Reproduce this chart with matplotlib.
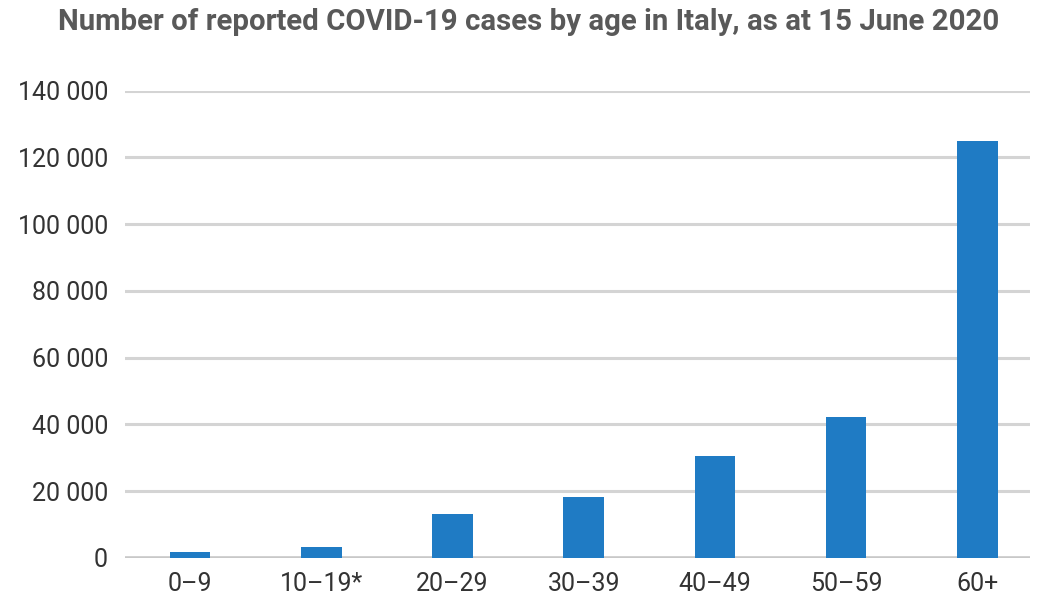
import matplotlib.pyplot as plt
from matplotlib.ticker import FuncFormatter

# data
age_groups = ["0–9", "10–19*", "20–29", "30–39", "40–49", "50–59", "60+"]
cases = [1800, 3300, 13200, 18300, 30400, 42300, 125000]
y_ticks = [0, 20000, 40000, 60000, 80000, 100000, 120000, 140000]

title = "Number of reported COVID-19 cases by age in Italy, as at 15 June 2020"

plt.rcParams["font.family"] = ["Roboto", "DejaVu Sans"]

fig = plt.figure(figsize=(10.38, 6.05), dpi=100)
ax = fig.add_axes([0.120, 0.078, 0.872, 0.772])

x = range(len(age_groups))
ax.bar(x, cases, width=0.31, color="#1f7bc4", zorder=3)

ax.set_xlim(-0.5, 6.4)
ax.set_ylim(0, 140000)
ax.set_yticks(y_ticks)
ax.yaxis.set_major_formatter(FuncFormatter(lambda v, p: f"{int(v):,}".replace(",", " ")))
ax.set_xticks(list(x))
ax.set_xticklabels(age_groups)

ax.grid(axis="y", color="#d4d4d4", linewidth=2.2, zorder=0)
ax.axhline(0, color="#c8c8c8", linewidth=2.6, zorder=2)
for s in ax.spines.values():
    s.set_visible(False)
ax.tick_params(length=0, labelsize=18, colors="#333333")
ax.tick_params(axis="y", pad=12)
ax.tick_params(axis="x", pad=10)

fig.text(0.509, 0.963, title, ha="center", va="center", fontsize=21.2,
         fontweight="bold", color="#595959")

fig.savefig("out.png", dpi=100)
